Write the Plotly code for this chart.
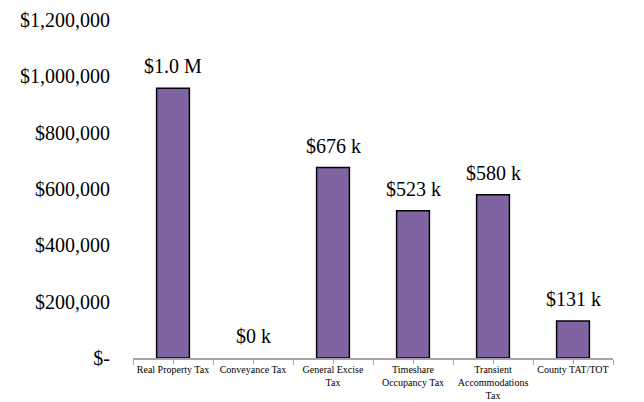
import plotly.graph_objects as go

categories = ["Real Property Tax", "Conveyance Tax", "General Excise<br>Tax",
              "Timeshare<br>Occupancy Tax", "Transient<br>Accommodations<br>Tax",
              "County TAT/TOT"]
revenue = [958000, 0, 676000, 523000, 580000, 131000]
bar_labels = ["$1.0 M", "$0 k", "$676 k", "$523 k", "$580 k", "$131 k"]
y_ticks = [0, 200000, 400000, 600000, 800000, 1000000, 1200000]
y_tick_text = ["$-", "$200,000", "$400,000", "$600,000", "$800,000", "$1,000,000", "$1,200,000"]

x_pos = list(range(len(categories)))
serif = "Liberation Serif, Times New Roman, serif"
# no outline on empty bars
outline_w = [1.5 if v > 0 else 0 for v in revenue]

fig = go.Figure()
fig.add_trace(go.Bar(
    x=x_pos, y=revenue, width=0.41,
    marker=dict(color="#8064A2", line=dict(color="black", width=outline_w)),
    hoverinfo="skip"
))

for x, v, t in zip(x_pos, revenue, bar_labels):
    fig.add_annotation(x=x, y=v, text=t, showarrow=False, yanchor="bottom",
                       yshift=9, font=dict(family=serif, size=20, color="black"))

# page body adds an 8px offset, so the figure is a bit smaller than the window
fig.update_layout(
    width=636, height=394,
    margin=dict(l=125, r=31, t=12, b=44),
    plot_bgcolor="white", paper_bgcolor="white",
    showlegend=False,
    font=dict(family=serif, color="black"),
    xaxis=dict(
        range=[-0.5, 5.5], tickvals=x_pos, ticktext=categories,
        tickfont=dict(size=10), showgrid=False, zeroline=False,
        showline=True, linecolor="#a6a6a6", linewidth=1.5,
        ticks="outside", ticklen=4, tickcolor="#a6a6a6", automargin=False,
        ticklabelstandoff=-3,
        minor=dict(tickmode="linear", tick0=-0.5, dtick=1, ticks="outside",
                   ticklen=5, tickcolor="#a6a6a6", showgrid=False),
    ),
    yaxis=dict(
        range=[0, 1200000], tickvals=y_ticks, ticktext=y_tick_text,
        tickfont=dict(size=20), showgrid=False, zeroline=False, automargin=False,
        showline=False, ticks="", ticklabelstandoff=22,
    ),
)

fig.write_html("out.html")
